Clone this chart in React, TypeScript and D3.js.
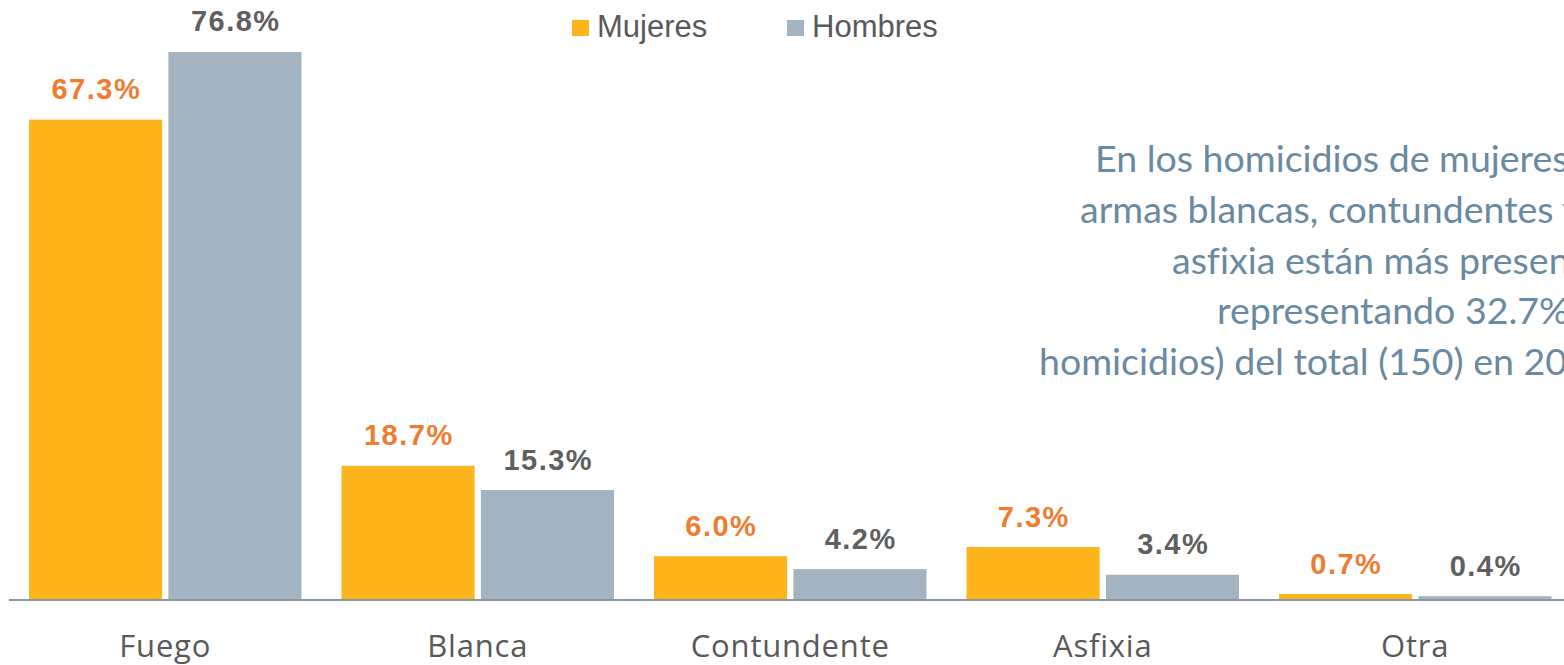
import * as d3 from "d3";
import React, { useEffect, useRef } from "react";

const categories = ["Fuego", "Blanca", "Contundente", "Asfixia", "Otra"];
const mujeres = [67.3, 18.7, 6.0, 7.3, 0.7];
const hombres = [76.8, 15.3, 4.2, 3.4, 0.4];
const seriesNames = ["Mujeres", "Hombres"];
const noteLines = [
  "En los homicidios de mujeres, las",
  "armas blancas, contundentes y la",
  "asfixia están más presentes,",
  "representando 32.7% (49",
  "homicidios) del total (150) en 2021.",
];
const noteStarts = [1095, 1080, 1172, 1217, 1039];

const W = 1564;
const H = 665;
const COLORS = ["#fdb51b", "#a3b4c0"];
const LABEL_COLORS = ["#ed7d31", "#5f5f5f"];

const App: React.FC = () => {
  const svgRef = useRef<SVGSVGElement>(null);

  useEffect(() => {
    if (!svgRef.current) return;
    const svg = d3.select(svgRef.current);
    svg.selectAll("*").remove();

    const margin = { left: 9, top: 0, bottom: 66 };
    const baseY = H - margin.bottom;

    const x0 = d3
      .scaleBand()
      .domain(categories)
      .range([margin.left, margin.left + 312.5 * categories.length])
      .paddingInner(0)
      .paddingOuter(0);

    const x1 = d3
      .scaleBand()
      .domain(seriesNames)
      .range([20, x0.bandwidth() - 20])
      .paddingInner(0.045);

    const y = d3.scaleLinear().domain([0, 84.1]).range([baseY, 0]);

    const rows = categories.map((c, i) => ({
      cat: c,
      vals: [mujeres[i], hombres[i]],
    }));

    const groups = svg
      .selectAll("g.grp")
      .data(rows)
      .join("g")
      .attr("class", "grp")
      .attr("transform", (d) => `translate(${x0(d.cat)},0)`);

    groups
      .selectAll("rect")
      .data((d) => d.vals.map((v, k) => ({ v, k })))
      .join("rect")
      .attr("x", (d) => x1(seriesNames[d.k])!)
      .attr("y", (d) => y(d.v))
      .attr("width", x1.bandwidth())
      .attr("height", (d) => baseY - y(d.v))
      .attr("fill", (d) => COLORS[d.k]);

    // value labels
    groups
      .selectAll("text.val")
      .data((d) => d.vals.map((v, k) => ({ v, k })))
      .join("text")
      .attr("class", "val")
      .attr("x", (d) => x1(seriesNames[d.k])! + x1.bandwidth() / 2 + 0.8)
      .attr("y", (d) => y(d.v) - 20.5)
      .attr("text-anchor", "middle")
      .attr("fill", (d) => LABEL_COLORS[d.k])
      .style("font-family", "'Liberation Sans', Arial, sans-serif")
      .style("font-weight", "700")
      .style("font-size", "29px")
      .style("letter-spacing", "1.5px")
      .text((d) => d.v.toFixed(1) + "%");

    // baseline
    svg
      .append("line")
      .attr("x1", margin.left)
      .attr("x2", W)
      .attr("y1", baseY + 1)
      .attr("y2", baseY + 1)
      .attr("stroke", "#8597a8")
      .attr("stroke-width", 2);

    // category labels
    svg
      .selectAll("text.cat")
      .data(categories)
      .join("text")
      .attr("class", "cat")
      .attr("x", (d) => x0(d)! + x0.bandwidth() / 2)
      .attr("y", baseY + 58)
      .attr("text-anchor", "middle")
      .attr("fill", "#595959")
      .style("font-family", "'Open Sans', sans-serif")
      .style("font-size", "31px")
      .style("letter-spacing", "0.8px")
      .text((d) => d);

    // legend
    const legendX = [572, 787];
    const leg = svg
      .selectAll("g.leg")
      .data(seriesNames)
      .join("g")
      .attr("class", "leg")
      .attr("transform", (_, i) => `translate(${legendX[i]},20)`);
    leg
      .append("rect")
      .attr("width", 17)
      .attr("height", 16)
      .attr("fill", (_, i) => COLORS[i]);
    leg
      .append("text")
      .attr("x", 25)
      .attr("y", 17)
      .attr("fill", "#595959")
      .style("font-family", "'Liberation Sans', Arial, sans-serif")
      .style("font-size", "31px")
      .text((d) => d);

    // annotation (runs past the right edge, as in the source slide)
    svg
      .selectAll("text.note")
      .data(noteLines)
      .join("text")
      .attr("class", "note")
      .attr("x", (_, i) => noteStarts[i])
      .attr("y", (_, i) => 172 + i * 50.75)
      .attr("fill", "#6a8aa2")
      .style("font-family", "Lato, sans-serif")
      .style("font-size", "37.5px")
      .style("font-variant-ligatures", "none")
      .text((d) => d);
  }, []);

  return (
    <svg
      ref={svgRef}
      width={W}
      height={H}
      style={{ position: "absolute", left: 0, top: 0, background: "#fff" }}
    />
  );
};

export default App;
